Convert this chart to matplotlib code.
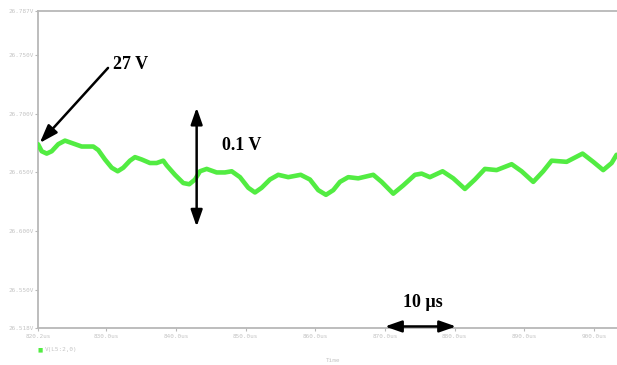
import matplotlib
matplotlib.use("Agg")
import matplotlib.pyplot as plt
from matplotlib.patches import FancyArrowPatch

# ---- data (time in microseconds, voltage in volts) ----
time_us = [820.2, 820.73, 821.45, 822.17, 823.11, 824.07, 825.04, 826.47, 828.14, 828.85,
           829.81, 830.78, 831.64, 832.44, 833.40, 834.12, 835.08, 836.27, 837.23, 838.18,
           838.67, 839.86, 841.05, 841.91, 842.73, 843.45, 844.41, 845.84, 847.03, 848.00,
           849.19, 850.38, 851.34, 852.30, 853.49, 854.68, 856.12, 857.90, 859.23, 860.42,
           861.53, 862.58, 863.54, 864.73, 866.16, 868.32, 869.52, 871.19, 872.62, 874.30,
           875.26, 876.45, 878.27, 879.80, 881.47, 882.91, 884.34, 886.02, 888.18, 889.61,
           891.28, 892.71, 893.92, 896.07, 898.36, 899.89, 901.32, 902.53, 903.24]
volts = [26.674, 26.668, 26.666, 26.668, 26.674, 26.677, 26.675, 26.672, 26.672, 26.669,
         26.661, 26.654, 26.651, 26.654, 26.660, 26.663, 26.661, 26.658, 26.658, 26.660,
         26.656, 26.648, 26.641, 26.640, 26.644, 26.651, 26.653, 26.650, 26.650, 26.651,
         26.646, 26.637, 26.633, 26.637, 26.644, 26.648, 26.646, 26.648, 26.644, 26.635,
         26.631, 26.635, 26.642, 26.646, 26.645, 26.648, 26.642, 26.632, 26.639, 26.648,
         26.649, 26.646, 26.651, 26.645, 26.636, 26.644, 26.653, 26.652, 26.657, 26.651,
         26.642, 26.651, 26.660, 26.659, 26.666, 26.659, 26.652, 26.658, 26.665]

y_ticks = [26.518, 26.550, 26.600, 26.650, 26.700, 26.750, 26.787]
y_tick_labels = ["26.518V", "26.550V", "26.600V", "26.650V", "26.700V", "26.750V", "26.787V"]
x_ticks = [820.2, 830.0, 840.0, 850.0, 860.0, 870.0, 880.0, 890.0, 900.0]
x_tick_labels = ["820.2us", "830.0us", "840.0us", "850.0us", "860.0us",
                 "870.0us", "880.0us", "890.0us", "900.0us"]
series_name = "V(L5:2,0)"
x_label = "Time"

GREEN = "#52EC42"
GRAY = "#c4c4c4"
SPINE = "#b8b8b8"

fig = plt.figure(figsize=(6.17, 3.65), dpi=100)
ax = fig.add_axes([38 / 617, 37 / 365, 579 / 617, 317 / 365])

ax.plot(time_us, volts, color=GREEN, lw=3.3, solid_joinstyle="round",
        solid_capstyle="round", zorder=3)

ax.set_xlim(820.2, 903.3)
ax.set_ylim(26.518, 26.787)
ax.set_xticks(x_ticks)
ax.set_xticklabels(x_tick_labels)
ax.set_yticks(y_ticks)
ax.set_yticklabels(y_tick_labels)

mono = "DejaVu Sans Mono"
for lab in ax.get_xticklabels() + ax.get_yticklabels():
    lab.set_family(mono)
    lab.set_fontsize(4.3)
    lab.set_color(GRAY)
ax.tick_params(axis="both", length=2.5, width=0.8, color=SPINE, pad=1.5)
ax.tick_params(axis="y", pad=0.5)

for side in ["left", "bottom", "top"]:
    ax.spines[side].set_color(SPINE)
    ax.spines[side].set_linewidth(1.3)
ax.spines["right"].set_visible(False)

# legend-like entry
fig.text(40 / 617, 1 - 350 / 365, "\u25a0", color=GREEN, fontsize=4, va="center", ha="center")
fig.text(45 / 617, 1 - 350 / 365, series_name, color=GRAY, fontsize=4.3,
         family=mono, va="center", ha="left")
fig.text(333 / 617, 1 - 361 / 365, x_label, color=GRAY, fontsize=4.3,
         family=mono, va="center", ha="center")

# annotations
tfont = dict(family="Liberation Serif", fontweight="bold", fontsize=13, color="black")


def arrow(p0, p1, style):
    a = FancyArrowPatch(p0, p1, arrowstyle=style, mutation_scale=10, lw=1.8,
                        color="black", shrinkA=0, shrinkB=0, zorder=5,
                        transform=ax.transData, clip_on=False)
    ax.add_patch(a)


arrow((830.25, 26.7387), (820.45, 26.675), "-|>,head_length=1.1,head_width=0.38")
ax.text(830.9, 26.742, "27 V", ha="left", va="center", **tfont)

arrow((842.97, 26.705), (842.97, 26.604), "<|-|>,head_length=1.0,head_width=0.35")
ax.text(846.6, 26.673, "0.1 V", ha="left", va="center", **tfont)

arrow((870.0, 26.5193), (880.2, 26.5193), "<|-|>,head_length=1.0,head_width=0.35")
ax.text(872.6, 26.540, "10 \u00b5s", ha="left", va="center", **tfont)

fig.savefig("out.png", dpi=100, facecolor="white")
